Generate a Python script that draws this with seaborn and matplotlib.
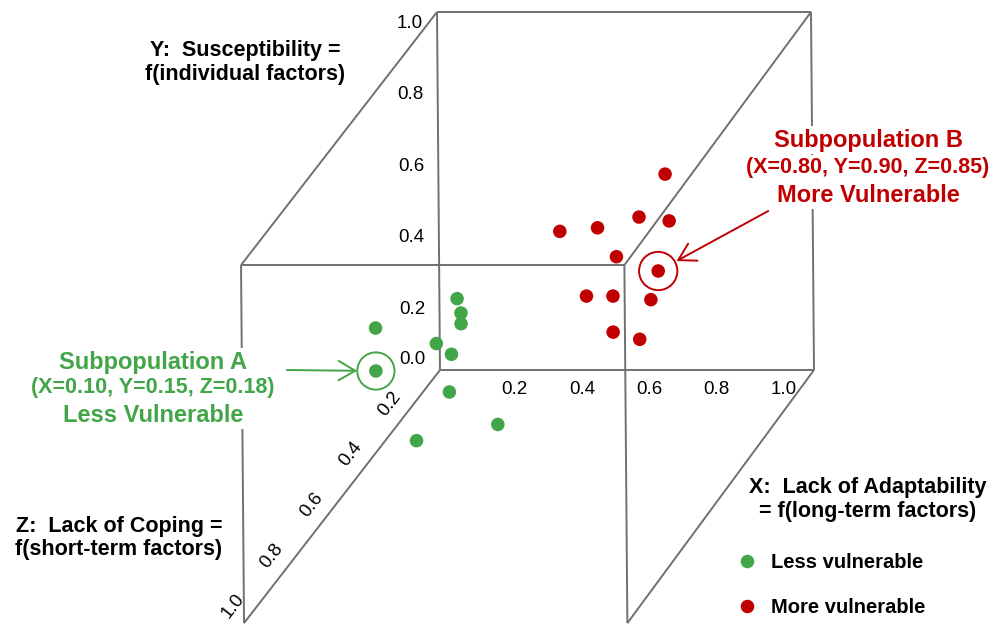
import matplotlib
matplotlib.use("Agg")
import matplotlib.pyplot as plt
import numpy as np
import pandas as pd
import seaborn as sns

# -------------------------------------------------------------------------
# data (x = lack of adaptability, y = susceptibility, z = lack of coping)
# -------------------------------------------------------------------------
less_x = [0.10, 0.11, 0.11, 0.07, 0.11, 0.04, 0.04, 0.13, 0.31, 0.12]
less_y = [0.27, 0.23, 0.20, 0.18, 0.15, 0.40, 0.28, 0.08, 0.06, 0.05]
less_z = [0.10, 0.10, 0.10, 0.15, 0.15, 0.40, 0.40, 0.20, 0.30, 0.35]

more_x = [0.81, 0.74, 0.63, 0.53, 0.87, 0.73, 0.84, 0.65, 0.72, 0.82, 0.77, 0.84]
more_y = [0.83, 0.71, 0.68, 0.67, 0.77, 0.67, 0.63, 0.56, 0.56, 0.55, 0.53, 0.51]
more_z = [0.40, 0.40, 0.40, 0.40, 0.50, 0.50, 0.50, 0.50, 0.50, 0.50, 0.60, 0.60]

highlight_less = 6
highlight_more = 6

tick_values = [0.0, 0.2, 0.4, 0.6, 0.8, 1.0]
tick_labels = ["0.0", "0.2", "0.4", "0.6", "0.8", "1.0"]

group_names = ["Less vulnerable", "More vulnerable"]
sub_a = ["Subpopulation A", "(X=0.10, Y=0.15, Z=0.18)", "Less Vulnerable"]
sub_b = ["Subpopulation B", "(X=0.80, Y=0.90, Z=0.85)", "More Vulnerable"]

GREEN = "#42A648"
RED = "#C00000"
GREY = "#707070"


def proj(x, y, z):
    """oblique projection of the cube onto the page"""
    x = np.asarray(x, float)
    y = np.asarray(y, float)
    z = np.asarray(z, float)
    px = x * (1 + 0.025 * z) - 0.524 * z - 0.008 * y
    py = y - 0.707 * z
    return px, py


df = pd.concat([
    pd.DataFrame({"x": less_x, "y": less_y, "z": less_z, "group": group_names[0]}),
    pd.DataFrame({"x": more_x, "y": more_y, "z": more_z, "group": group_names[1]}),
], ignore_index=True)
df["px"], df["py"] = proj(df.x, df.y, df.z)

sns.set_theme(style="white")
plt.rcParams["font.family"] = ["Liberation Sans", "DejaVu Sans"]
plt.rcParams["text.color"] = "black"

fig = plt.figure(figsize=(9.92, 6.25), dpi=100)
ax = fig.add_axes([0, 0, 1, 1])
ax.set_xlim(-440 / 374, 552 / 374)
ax.set_ylim(-255 / 358, 370 / 358)
ax.axis("off")

# cube wireframe
edges = [
    ((0, 0, 0), (1, 0, 0)), ((1, 0, 0), (1, 1, 0)), ((1, 1, 0), (0, 1, 0)), ((0, 1, 0), (0, 0, 0)),
    ((0, 1, 1), (1, 1, 1)), ((0, 1, 1), (0, 0, 1)), ((1, 1, 1), (1, 0, 1)),
    ((0, 0, 0), (0, 0, 1)), ((1, 0, 0), (1, 0, 1)), ((0, 1, 0), (0, 1, 1)), ((1, 1, 0), (1, 1, 1)),
]
for a, b in edges:
    xs, ys = proj([a[0], b[0]], [a[1], b[1]], [a[2], b[2]])
    ax.plot(xs, ys, color=GREY, lw=1.4, zorder=1, solid_capstyle="butt")

sns.scatterplot(data=df, x="px", y="py", hue="group",
                palette={group_names[0]: GREEN, group_names[1]: RED},
                s=95, edgecolor="none", linewidth=0, ax=ax, zorder=3)

# highlighted subpopulations
ha_x, ha_y = proj(less_x[highlight_less], less_y[highlight_less], less_z[highlight_less])
hb_x, hb_y = proj(more_x[highlight_more], more_y[highlight_more], more_z[highlight_more])
ax.scatter([ha_x], [ha_y], s=720, facecolors="none", edgecolors=GREEN, linewidths=1.4, zorder=3)
ax.scatter([hb_x], [hb_y], s=760, facecolors="none", edgecolors=RED, linewidths=1.4, zorder=3)

ax.annotate("", xy=(ha_x, ha_y), xytext=(-89, 1), textcoords="offset pixels",
            arrowprops=dict(arrowstyle="->,head_length=0.6,head_width=0.35", color=GREEN,
                            lw=1.4, shrinkA=0, shrinkB=13.5, mutation_scale=20))
ax.annotate("", xy=(hb_x, hb_y), xytext=(110, 60), textcoords="offset pixels",
            arrowprops=dict(arrowstyle="->,head_length=0.6,head_width=0.35", color=RED,
                            lw=1.4, shrinkA=0, shrinkB=15, mutation_scale=20))

# tick labels
for v, lab in zip(tick_values, tick_labels):
    # y axis
    yx, yy = proj(0, v, 0)
    ax.annotate(lab, xy=(yx, yy), xytext=(-14, -11 if v > 0 else 10), textcoords="offset pixels",
                ha="right", va="center", fontsize=13.5, color="black")
    if v == 0:
        continue
    # x axis (labels set a little tighter than the axis)
    xx, xy_ = proj(0.2 + (v - 0.2) * 0.9, 0, 0)
    ax.annotate(lab, xy=(xx, xy_), xytext=(0, -20), textcoords="offset pixels",
                ha="center", va="center", fontsize=13.5, color="black")
    # z axis
    zx, zy = proj(0, 0, v)
    ax.annotate(lab, xy=(zx, zy), xytext=(-11, 17), textcoords="offset pixels",
                ha="center", va="center", rotation=52, rotation_mode="anchor",
                fontsize=13.5, color="black")

# axis titles
def ftext(px, py, s, **kw):
    fig.text(px / 992, 1 - py / 625, s, ha="center", va="center", **kw)

ftext(245, 62.5, "Y:  Susceptibility =\nf(individual factors)", fontsize=15.5,
      fontweight="bold", linespacing=1.15)
ftext(119, 538, "Z:  Lack of Coping =\nf(short-term factors)", fontsize=15.5,
      fontweight="bold", linespacing=1.15)
ftext(868, 499.5, "X:  Lack of Adaptability\n= f(long-term factors)", fontsize=15.5,
      fontweight="bold", linespacing=1.15)

box = dict(facecolor="white", edgecolor="none", pad=2)
for (py, s, fs) in zip([362, 388, 415], sub_a, [17, 15.5, 17]):
    ftext(153, py, s, fontsize=fs, fontweight="bold", color=GREEN, bbox=box, zorder=5)
for (py, s, fs) in zip([140, 168, 195], sub_b, [17, 15.5, 17]):
    ftext(868, py, s, fontsize=fs, fontweight="bold", color=RED, bbox=box, zorder=5)

handles, labels = ax.get_legend_handles_labels()
leg = ax.legend(handles, labels, loc="upper left", bbox_to_anchor=(737 / 992, 1 - 553 / 625),
                bbox_transform=fig.transFigure, frameon=False, borderpad=0, borderaxespad=0,
                handlelength=1.0, handletextpad=0.7, labelspacing=1.3, markerscale=1.0,
                prop=dict(weight="bold", size=14.5))
for t in leg.get_texts():
    t.set_color("black")

fig.savefig("out.png", dpi=100)
